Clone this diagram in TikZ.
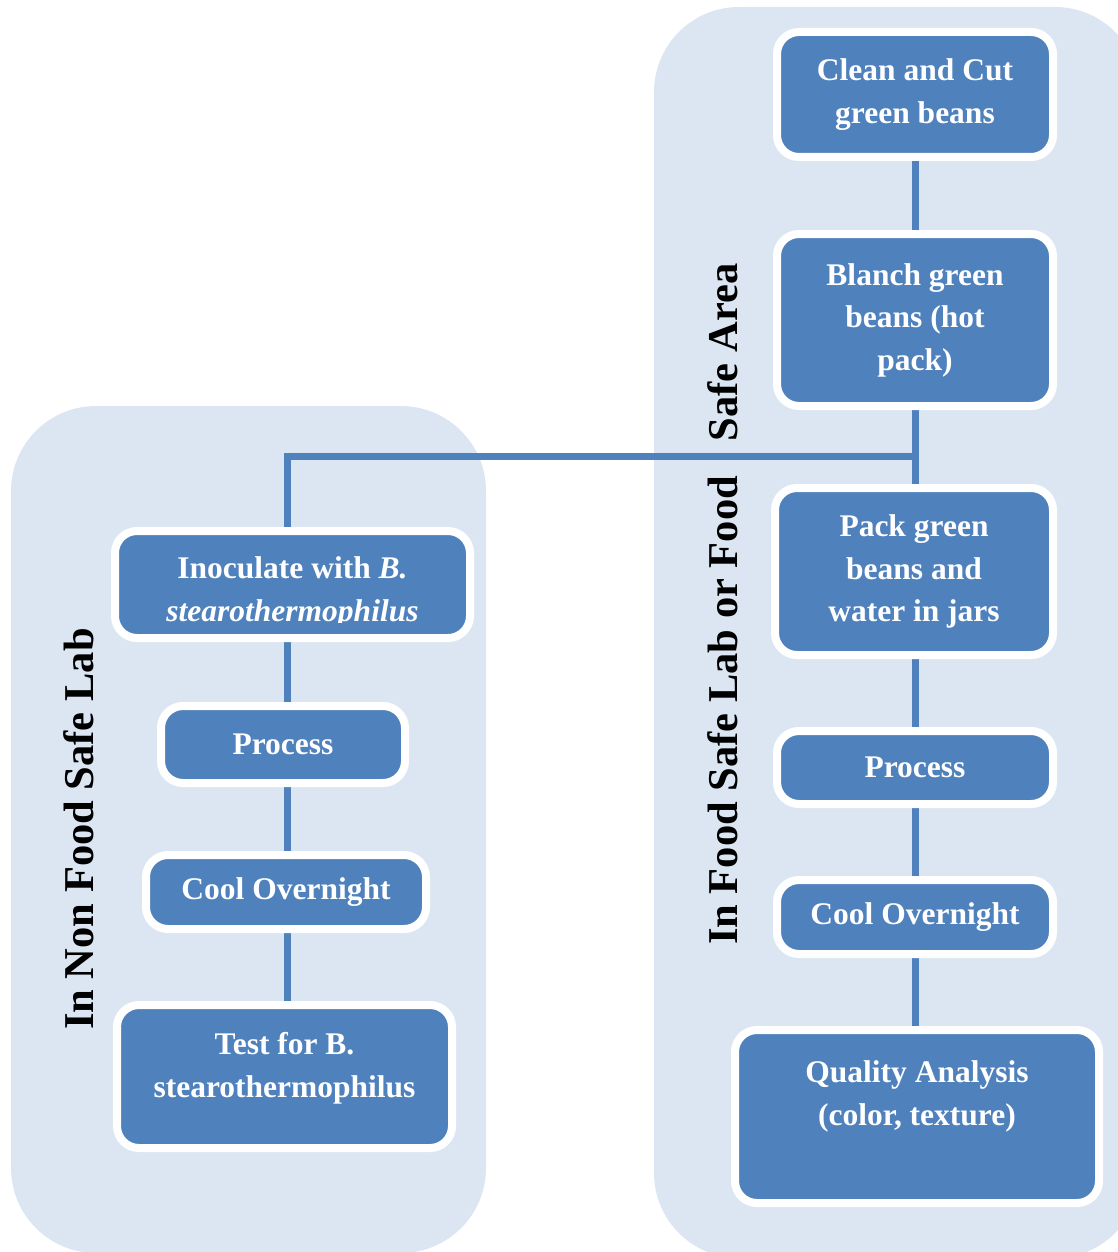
\documentclass[tikz,border=0pt]{standalone}
\usepackage{fontspec}
\setmainfont{Liberation Serif}
\definecolor{panelc}{HTML}{DCE6F2}
\definecolor{boxc}{HTML}{4F81BD}
\pgfdeclarelayer{panels}
\pgfdeclarelayer{lines}
\pgfsetlayers{panels,lines,main}
\begin{document}
\begin{tikzpicture}[x=1pt,y=-1pt,
  stepbox/.style={draw=white, line width=8pt, fill=boxc, rounded corners=22pt, inner sep=0pt,
    align=center, text=white, font=\fontsize{31.5}{42.5}\selectfont\bfseries},
  boxtext/.style={inner sep=0pt, align=center, text=white, font=\fontsize{31.5}{42.5}\selectfont\bfseries},
  conn/.style={draw=boxc, line width=7pt},
  side/.style={rotate=90, anchor=base west, inner sep=0pt, text=black, font=\fontsize{42.5}{50}\selectfont\bfseries},
  panel/.style={fill=panelc, rounded corners=85pt}
]
\useasboundingbox (0,0) rectangle (1118,1252);

\begin{pgfonlayer}{panels}
  \fill[panel] (11,406) rectangle (486,1253);
  \fill[panel] (654,7) rectangle (1140,1258);
\end{pgfonlayer}

% right column
\node[stepbox, minimum width=276pt, minimum height=125pt] (clean) at (915,94.5) {Clean and Cut\\green beans};
\node[stepbox, minimum width=276pt, minimum height=172pt] (blanch) at (915,320) {Blanch green\\beans (hot\\pack)};
\node[stepbox, minimum width=278pt, minimum height=167pt] (pack) at (914,571.5) {Pack green\\beans and\\water in jars};
\node[stepbox, minimum width=276pt, minimum height=73pt] (procR) at (915,767.5) {Process};
\node[stepbox, minimum width=276pt, minimum height=74pt] (coolR) at (915,917) {Cool Overnight};
\node[stepbox, minimum width=364pt, minimum height=173pt] (qual) at (917,1116.5) {};
\node[boxtext] (qualtxt) at ([yshift=20pt]qual.center) {Quality Analysis\\(color, texture)};

% left column
\node[stepbox, minimum width=355pt, minimum height=107pt] (inoc) at (292.5,584.5) {};
\begin{scope}
  \clip (119,535) rectangle (466,622);
  \node[boxtext] (inoctxt) at ([yshift=-8pt]inoc.center) {Inoculate with \textit{B.}\\\textit{stearothermophilus}};
\end{scope}
\node[stepbox, minimum width=244pt, minimum height=77pt] (procL) at (283,744.5) {Process};
\node[stepbox, minimum width=280pt, minimum height=74pt] (coolL) at (286,892) {Cool Overnight};
\node[stepbox, minimum width=335pt, minimum height=143pt] (test) at (284.5,1076.5) {};
\node[boxtext] (testtxt) at ([yshift=8pt]test.center) {Test for B.\\stearothermophilus};

% junctions
\coordinate (jr) at (915,456);
\coordinate (jl) at (287,456);

\begin{pgfonlayer}{lines}
  \draw[conn] (clean.south) -- (jr |- blanch.north);
  \draw[conn] (jr |- blanch.south) -- (jr |- pack.north);
  \draw[conn] (jr |- pack.south) -- (jr |- procR.north);
  \draw[conn] (jr |- procR.south) -- (jr |- coolR.north);
  \draw[conn] (jr |- coolR.south) -- (jr |- qual.north);
  \draw[conn, line join=miter] (jr) -- (jl) -- (jl |- inoc.north);
  \draw[conn] (jl |- inoc.south) -- (jl |- procL.north);
  \draw[conn] (jl |- procL.south) -- (jl |- coolL.north);
  \draw[conn] (jl |- coolL.south) -- (jl |- test.north);
\end{pgfonlayer}

% side labels
\node[side] (lablL) at (93,1030) {In Non Food Safe Lab};
\node[side] (lablR) at (737,945) {In Food Safe Lab or Food\hspace{35pt}Safe Area};
\end{tikzpicture}
\end{document}
